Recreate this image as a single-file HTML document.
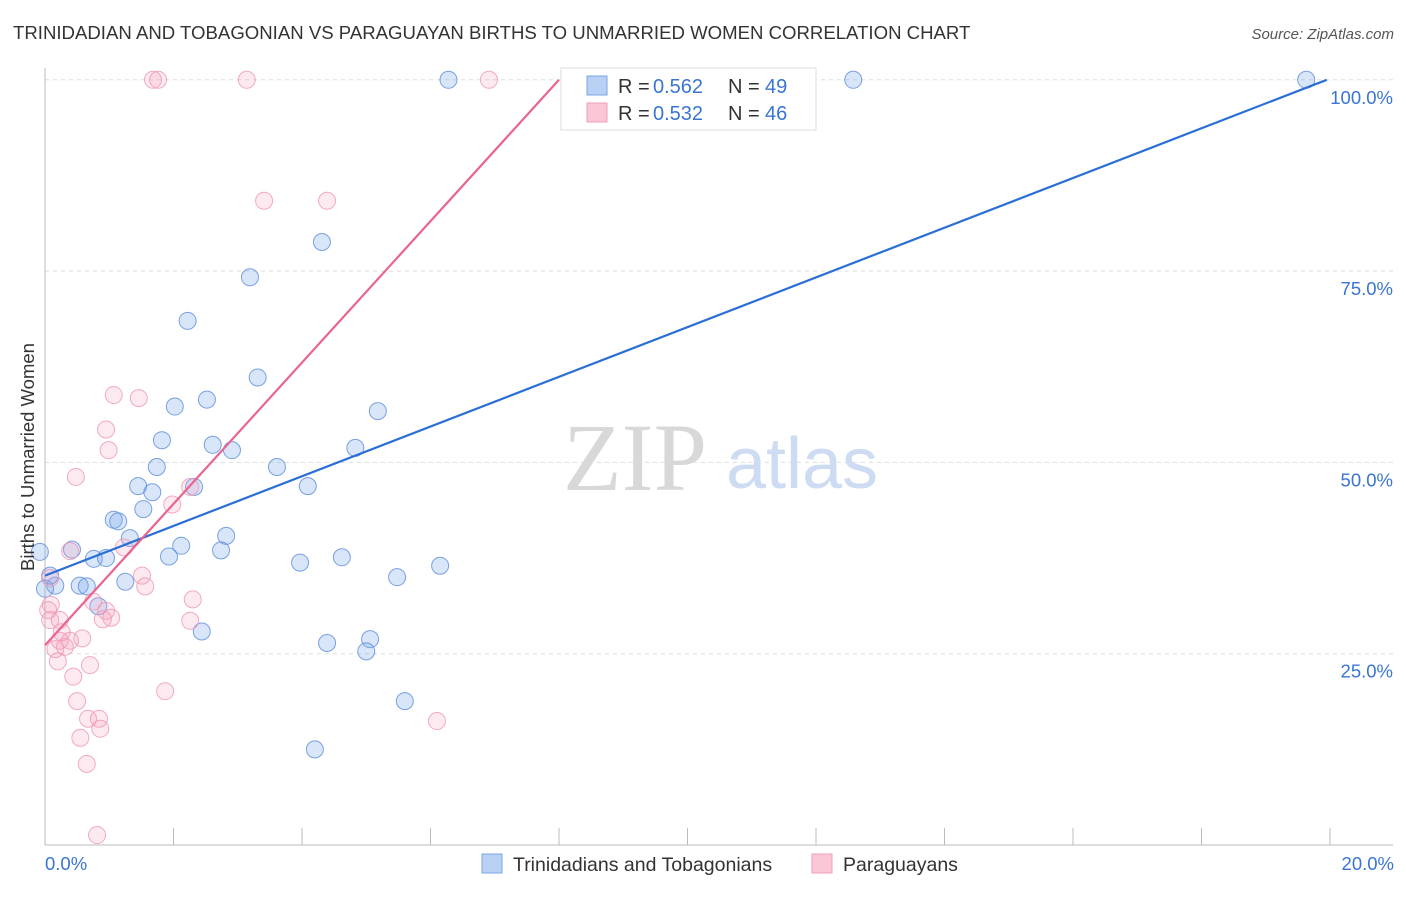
<!DOCTYPE html>
<html><head><meta charset="utf-8"><style>
body{margin:0;background:#fff;font-family:"Liberation Sans",sans-serif;}
</style></head><body>
<svg width="1406" height="892" xmlns="http://www.w3.org/2000/svg">
<text x="13" y="39" font-size="18.6" fill="#333">TRINIDADIAN AND TOBAGONIAN VS PARAGUAYAN BIRTHS TO UNMARRIED WOMEN CORRELATION CHART</text>
<text x="1394" y="39" font-size="15" fill="#555" font-style="italic" text-anchor="end">Source: ZipAtlas.com</text>
<g id="grid"></g>
<text x="635" y="490" font-size="96" fill="#d8d8d8" font-family="Liberation Serif" text-anchor="middle">ZIP</text>
<text x="802" y="488" font-size="72" fill="#cddcf2" text-anchor="middle">atlas</text>
<g id="pts"></g>
<g id="lines"></g>
<text transform="translate(34,457) rotate(-90)" font-size="18.5" fill="#333" text-anchor="middle">Births to Unmarried Women</text>
<text x="45" y="870" font-size="18.5" fill="#3a75d4">0.0%</text>
<text x="1394" y="870" font-size="18.5" fill="#3a75d4" text-anchor="end">20.0%</text>
<g>
<rect x="561" y="68" width="255" height="62" fill="#fff" stroke="#ddd"/>
<rect x="587" y="76" width="20" height="19" fill="#b7d0f4" stroke="#7aa6e6"/>
<rect x="587" y="103" width="20" height="19" fill="#f9c7d5" stroke="#f0a0b8"/>
<text x="618" y="93" font-size="20" fill="#333">R = </text><text x="653" y="93" font-size="20" fill="#3a75d4">0.562</text>
<text x="728" y="93" font-size="20" fill="#333">N = </text><text x="765" y="93" font-size="20" fill="#3a75d4">49</text>
<text x="618" y="120" font-size="20" fill="#333">R = </text><text x="653" y="120" font-size="20" fill="#3a75d4">0.532</text>
<text x="728" y="120" font-size="20" fill="#333">N = </text><text x="765" y="120" font-size="20" fill="#3a75d4">46</text>
</g>
<g>
<rect x="482" y="854" width="20" height="19" fill="#b7d0f4" stroke="#7aa6e6"/>
<text x="513" y="871" font-size="19.5" fill="#333">Trinidadians and Tobagonians</text>
<rect x="812" y="854" width="20" height="19" fill="#f9c7d5" stroke="#f0a0b8"/>
<text x="843" y="871" font-size="19.5" fill="#333">Paraguayans</text>
</g>
</svg>
<script>
const yTicks=[25,50,75,100];
const yTickLabels=["25.0%","50.0%","75.0%","100.0%"];
const blueX=[6.28,12.58,19.63,4.31,3.19,2.22,3.31,5.18,2.02,2.52,1.82,2.61,2.91,4.83,1.74,3.61,1.45,1.67,2.32,4.09,1.53,1.07,1.14,1.32,2.82,2.12,2.74,1.93,-0.08,0.42,0.76,0.95,3.97,4.62,6.15,5.48,1.25,0.54,0.65,0.16,0.08,0.83,2.44,4.39,5.06,5.0,5.6,4.2,0.0];
const blueY=[100,100,100,78.8,74.2,68.5,61.1,56.7,57.3,58.2,52.9,52.3,51.6,51.9,49.4,49.4,46.9,46.1,46.8,46.9,43.9,42.5,42.3,40.1,40.4,39.1,38.5,37.7,38.3,38.6,37.4,37.5,36.9,37.6,36.5,35.0,34.4,33.9,33.8,33.9,35.2,31.2,27.9,26.4,26.9,25.3,18.8,12.5,33.5];
const pinkX=[1.68,1.76,3.14,6.91,3.41,4.39,1.07,1.46,0.95,0.99,0.48,2.26,1.98,1.23,0.39,1.51,1.56,0.08,2.30,0.75,0.95,1.03,0.90,0.09,0.08,0.23,2.26,0.26,0.58,0.39,0.31,0.16,0.20,0.70,0.44,1.87,0.50,0.67,0.84,0.86,0.55,6.10,0.65,0.81,0.23,0.05];
const pinkY=[100,100,100,100,84.2,84.2,58.8,58.4,54.3,51.6,48.1,46.8,44.5,38.9,38.4,35.2,33.8,34.9,32.1,31.8,30.6,29.7,29.5,31.4,29.4,29.4,29.3,27.8,27.0,26.7,25.9,25.6,24.0,23.5,22.0,20.1,18.8,16.5,16.5,15.2,14.0,16.2,10.6,1.3,26.7,30.7];
const blueLine=[0,35.2,19.95,100];
const pinkLine=[0,26.1,8.0,100];
const NS='http://www.w3.org/2000/svg';
const X=v=>45+v*64.25, Y=v=>845-v*7.652;
function mk(t,a,p){const e=document.createElementNS(NS,t);for(const k in a)e.setAttribute(k,a[k]);p.appendChild(e);return e;}
const g=document.getElementById('grid');
yTicks.forEach((t,i)=>{
 const l=mk('line',{x1:45,x2:1393,y1:Y(t),y2:Y(t),stroke:'#ddd','stroke-dasharray':'4,4'},g);
 
 
 const tx=mk('text',{x:1393,y:Y(t)+24,'font-size':18.5,fill:'#3a75d4','text-anchor':'end'},g);
 tx.textContent=yTickLabels[i];
 
 
});
const ax=mk('line',{x1:45,x2:1393,y1:845,y2:845,stroke:'#bbb'},g);


const ay=mk('line',{x1:45,x2:45,y1:68,y2:845,stroke:'#bbb'},g);


for(let i=0;i<=10;i++){
 const t=mk('line',{x1:X(i*2),x2:X(i*2),y1:828,y2:845,stroke:'#bbb'},g);
 
 
}
const p=document.getElementById('pts');
blueX.forEach((v,i)=>{
 const c=mk('circle',{cx:X(v),cy:Y(blueY[i]),r:8.5,fill:'rgba(120,165,235,0.28)',stroke:'rgba(90,140,220,0.8)','stroke-width':1},p);
 
 
});
pinkX.forEach((v,i)=>{
 const c=mk('circle',{cx:X(v),cy:Y(pinkY[i]),r:8.5,fill:'rgba(245,160,185,0.22)',stroke:'rgba(238,150,180,0.8)','stroke-width':1},p);
 
 
});
const L=document.getElementById('lines');
const b=mk('line',{x1:X(blueLine[0]),y1:Y(blueLine[1]),x2:X(blueLine[2]),y2:Y(blueLine[3]),stroke:'#2a6fd6','stroke-width':2.2},L);


const q=mk('line',{x1:X(pinkLine[0]),y1:Y(pinkLine[1]),x2:X(pinkLine[2]),y2:Y(pinkLine[3]),stroke:'#e8658f','stroke-width':2.2},L);


</script>
</body></html>
